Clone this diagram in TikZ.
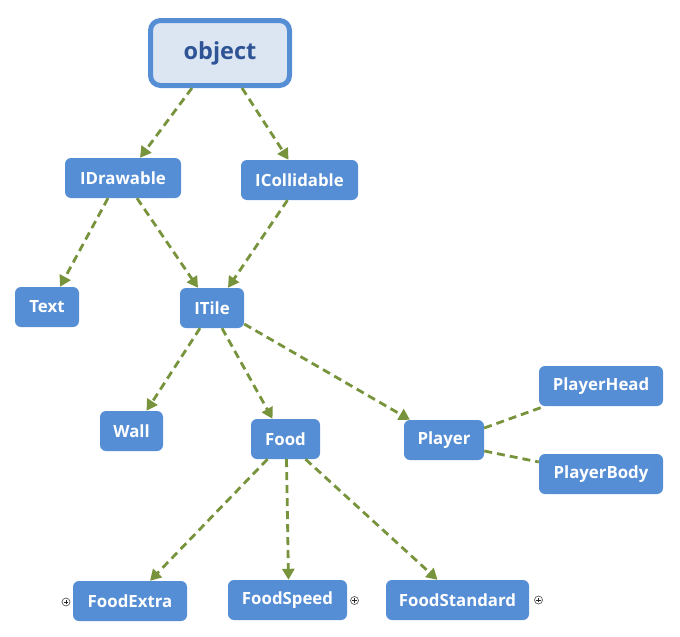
\documentclass[tikz,border=0pt]{standalone}
\usepackage{fontspec}
\setmainfont{Open Sans}
\usepackage{tikz}
\usetikzlibrary{arrows.meta}
\definecolor{boxblue}{HTML}{558ED5}
\definecolor{rootfill}{HTML}{DCE6F2}
\definecolor{roottext}{HTML}{2F5496}
\definecolor{linkgreen}{HTML}{77933C}

\begin{document}
\begin{tikzpicture}[x=1pt,y=-1pt,
  cls/.style={rectangle,rounded corners=6pt,fill=boxblue,text=white,
    font=\fontsize{16.8}{19}\selectfont\bfseries,minimum height=40pt,inner sep=0pt},
  root/.style={rectangle,rounded corners=10pt,fill=rootfill,draw=boxblue,line width=5pt,
    text=roottext,font=\fontsize{23.5}{27}\selectfont\bfseries,minimum width=139pt,minimum height=65pt},
  link/.style={linkgreen,line width=2.8pt,dash pattern=on 8pt off 5pt},
  inh/.style={link,-{Triangle[width=12pt,length=11pt]}},
  expander/.style={circle,draw=gray!70!black,line width=0.7pt,minimum size=8pt,inner sep=0pt,
    path picture={\draw[gray!30!black,line width=0.8pt]
      ([xshift=-2.3pt]path picture bounding box.center)--([xshift=2.3pt]path picture bounding box.center)
      ([yshift=-2.3pt]path picture bounding box.center)--([yshift=2.3pt]path picture bounding box.center);}}]
\useasboundingbox (0,0) rectangle (680,637);
\node[root] (object) at (220,53) {object};
\node[cls,minimum width=116pt] (idrawable) at (123,178) {IDrawable};
\node[cls,minimum width=117pt] (icollidable) at (299.5,180) {ICollidable};
\node[cls,minimum width=64pt] (text) at (47,307) {Text};
\node[cls,minimum width=64pt] (itile) at (212,308) {ITile};
\node[cls,minimum width=63pt] (wall) at (131.5,431) {Wall};
\node[cls,minimum width=69pt] (food) at (285.5,439) {Food};
\node[cls,minimum width=80pt] (player) at (444,440) {Player};
\node[cls,minimum width=124pt] (playerhead) at (601,386) {PlayerHead};
\node[cls,minimum width=124pt] (playerbody) at (601,474) {PlayerBody};
\node[cls,minimum width=114pt] (foodextra) at (130,601) {FoodExtra};
\node[cls,minimum width=119pt] (foodspeed) at (287.5,600) {FoodSpeed};
\node[cls,minimum width=143pt] (foodstandard) at (457.5,600) {FoodStandard};
% collapsed markers
\node[expander] (foodextra plus) at (66,602) {};
\node[expander] (foodspeed plus) at (354.5,600.5) {};
\node[expander] (foodstandard plus) at (538.5,600) {};
% inheritance
\draw[inh] ([xshift=-28pt]object.south) -- ([xshift=17pt]idrawable.north);
\draw[inh] ([xshift=22pt]object.south) -- ([xshift=-11pt]icollidable.north);
\draw[inh] ([xshift=-15pt]idrawable.south) -- ([xshift=13pt]text.north);
\draw[inh] ([xshift=14pt]idrawable.south) -- ([xshift=-14pt]itile.north);
\draw[inh] ([xshift=-12pt]icollidable.south) -- ([xshift=16pt]itile.north);
\draw[inh] ([xshift=-12pt]itile.south) -- ([xshift=15pt]wall.north);
\draw[inh] ([xshift=10pt]itile.south) -- ([xshift=-13pt]food.north);
\draw[inh] ([yshift=-16pt]itile.east) -- ([xshift=-34pt]player.north);
\draw[inh] ([xshift=-18pt]food.south) -- ([xshift=20pt]foodextra.north);
\draw[inh] ([xshift=1pt]food.south) -- ([xshift=1pt]foodspeed.north);
\draw[inh] ([xshift=20pt]food.south) -- ([xshift=-20pt]foodstandard.north);
% parts
\draw[link] ([yshift=12pt]player.east) -- ([xshift=6pt]playerhead.south west);
\draw[link] ([yshift=-11pt]player.east) -- ([yshift=12pt]playerbody.west);
\end{tikzpicture}
\end{document}
